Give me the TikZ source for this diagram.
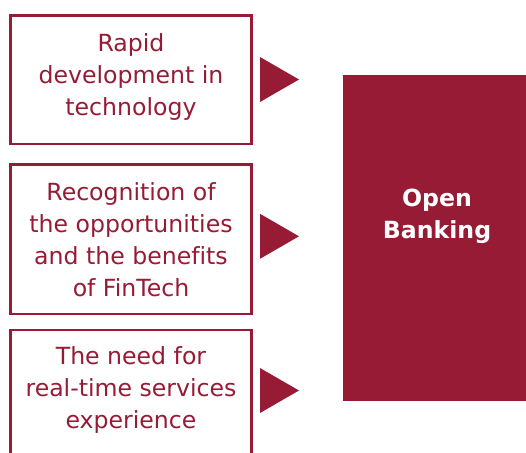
\documentclass[tikz,border=0pt]{standalone}
\usepackage{fontspec}
\setmainfont[Ligatures=NoCommon]{DejaVu Sans}
\definecolor{wine}{RGB}{152,27,54}
\begin{document}
\begin{tikzpicture}[x=1pt,y=-1pt,
  reason/.style={draw=wine, line width=2.4pt, fill=white, text=wine,
    align=center, font=\fontsize{23.6}{32}\selectfont,
    minimum width=241pt, inner sep=0pt, anchor=north west},
  goal/.style={fill=wine, draw=none, minimum width=188.3pt,
    minimum height=325.7pt, inner sep=0pt, anchor=north west},
  goaltext/.style={text=white, align=center,
    font=\bfseries\fontsize{23.6}{32}\selectfont, inner sep=0pt},
  pointer/.style={fill=wine, draw=none}]
\useasboundingbox (0,0) rectangle (526,452);
\clip (0,0) rectangle (526,452);

% three driver boxes on the left
\node[reason, minimum height=128.3pt, text depth=11.5pt] (r1) at (9.3,14.5)
  {Rapid\\development in\\technology};
\node[reason, minimum height=149.7pt] (r2) at (9.3,163.3)
  {Recognition of\\the opportunities\\and the benefits\\of FinTech};
\node[reason, minimum height=140pt, text depth=25pt] (r3) at (9.3,329)
  {The need for\\real-time services\\experience};

% the result block on the right
\node[goal] (ob) at (342.7,75) {};
\node[goaltext] (obt) at ([yshift=22pt]ob.center) {Open\\Banking};

% pointers towards the result block
\coordinate (p1) at (260,79.5);
\coordinate (p2) at (260,236.3);
\coordinate (p3) at (260,390.5);
\foreach \p in {p1,p2,p3}
  \fill[pointer] (\p) ++(0,-22.5) -- ++(39,22.5) -- ++(-39,22.5) -- cycle;
\end{tikzpicture}
\end{document}
